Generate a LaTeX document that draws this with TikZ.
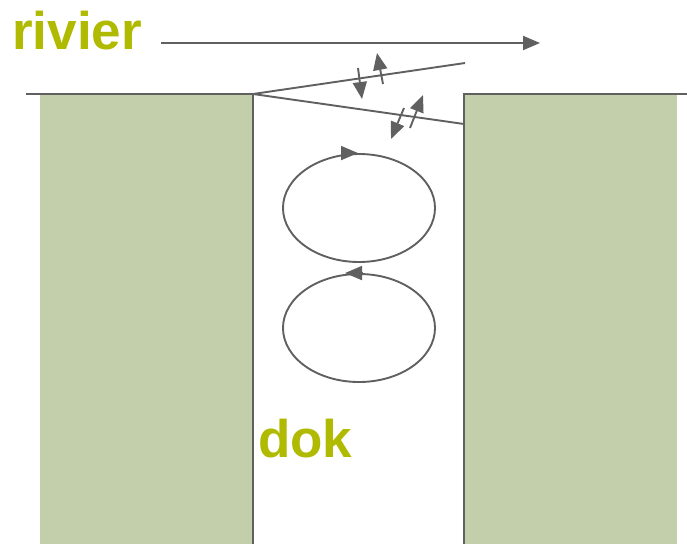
\documentclass[tikz,border=0pt]{standalone}
\usepackage{fontspec}
\setmainfont{Liberation Sans}
\usetikzlibrary{arrows.meta,shapes.geometric}
\definecolor{wall}{HTML}{C3CEAB}
\definecolor{edge}{HTML}{606060}
\definecolor{label}{HTML}{AFBA00}
\tikzset{
  quay/.style={fill=wall, draw=none},
  line/.style={draw=edge, line width=1.9pt},
  flow/.style={line, -{Triangle[length=17pt, width=14pt]}},
  eddy/.style={ellipse, draw=edge, line width=1.9pt, minimum width=152pt, minimum height=108pt, inner sep=0pt},
  word/.style={text=label, font=\bfseries\fontsize{53}{53}\selectfont, inner sep=0pt, anchor=base west}
}
\begin{document}
\begin{tikzpicture}[x=1pt, y=-1pt]
\useasboundingbox (0,0) rectangle (687,544);

% quay walls
\fill[quay] (40,94) rectangle (253,544);
\fill[quay] (464,94) rectangle (677,544);

% outlines of the dock entrance
\coordinate (lq) at (26,94);
\coordinate (lc) at (253,94);
\coordinate (lb) at (253,544);
\coordinate (rq) at (687,94);
\coordinate (rc) at (464,94);
\coordinate (rb) at (464,544);
\coordinate (mu) at (465,63);
\coordinate (ml) at (464,124);
\draw[line] (lq) -- (lc) -- (lb);
\draw[line] (rq) -- (rc) -- (rb);
\draw[line] (lc) -- (mu);
\draw[line] (lc) -- (ml);

% labels
\node[word] (rivier) at (12,49) {rivier};
\node[word] (dok) at (258,457) {dok};

% river current
\coordinate (r1) at (161,43);
\coordinate (r2) at (540,43);
\draw[flow] (r1) -- (r2);

% exchange across the mixing layers
\coordinate (a1) at (358,68);  \coordinate (a2) at (362,99);
\coordinate (b1) at (383,84);  \coordinate (b2) at (377,53);
\coordinate (c1) at (404,108); \coordinate (c2) at (391,139);
\coordinate (d1) at (410,128); \coordinate (d2) at (423,95);
\draw[flow] (a1) -- (a2);
\draw[flow] (b1) -- (b2);
\draw[flow] (c1) -- (c2);
\draw[flow] (d1) -- (d2);

% eddies in the dock
\node[eddy] (e1) at (359,208) {};
\node[eddy] (e2) at (359,328) {};
\draw[flow] ([xshift=-18pt]e1.north) -- ([xshift=-1pt]e1.north);
\draw[flow] ([xshift=3pt]e2.north) -- ([xshift=-14pt]e2.north);
\end{tikzpicture}
\end{document}
